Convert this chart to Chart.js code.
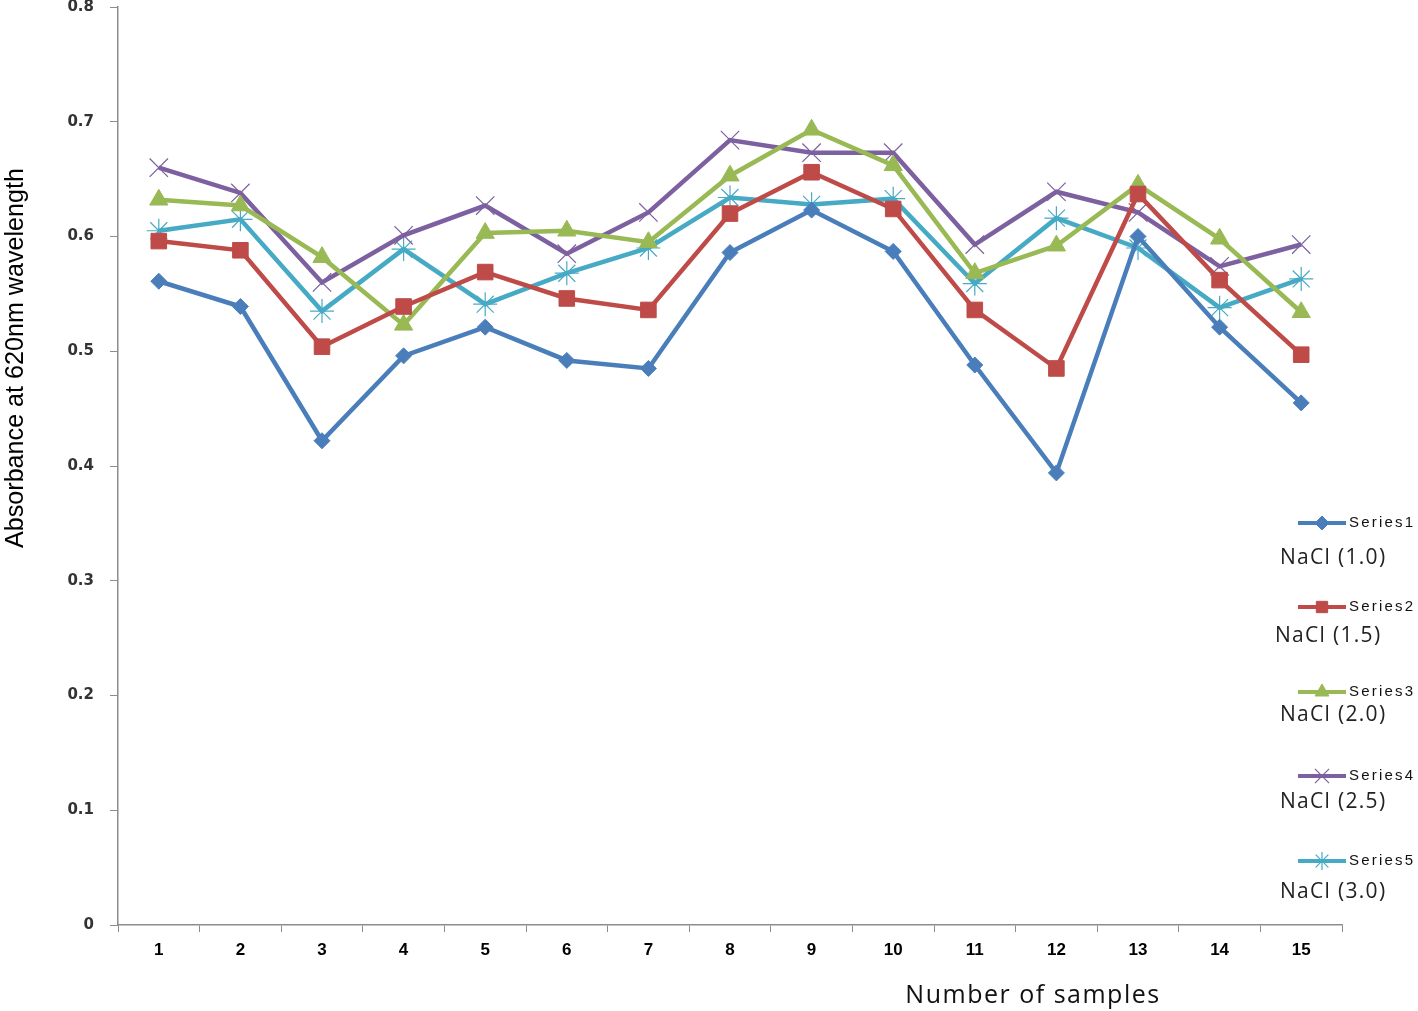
<!DOCTYPE html>
<html>
<head>
<meta charset="utf-8">
<script src="https://cdn.jsdelivr.net/npm/chart.js@4.4.0/dist/chart.umd.min.js"></script>
<style>
  html, body { margin: 0; padding: 0; background: #fff; }
  #wrap { width: 1418px; height: 1011px; }
</style>
</head>
<body>
<div id="wrap"><canvas id="absChart" width="1418" height="1011"></canvas></div>
<script>
// ---------------------------
// DATA
// ---------------------------
const samples = ["1","2","3","4","5","6","7","8","9","10","11","12","13","14","15"];

const series1 = [0.561, 0.539, 0.422, 0.496, 0.521, 0.492, 0.485, 0.586, 0.623, 0.587, 0.488, 0.394, 0.600, 0.521, 0.455];
const series2 = [0.596, 0.588, 0.504, 0.539, 0.569, 0.546, 0.536, 0.620, 0.656, 0.624, 0.536, 0.485, 0.637, 0.562, 0.497];
const series3 = [0.632, 0.627, 0.582, 0.523, 0.603, 0.605, 0.595, 0.653, 0.693, 0.662, 0.568, 0.592, 0.645, 0.598, 0.534];
const series4 = [0.660, 0.638, 0.560, 0.601, 0.627, 0.585, 0.621, 0.684, 0.673, 0.673, 0.593, 0.639, 0.621, 0.574, 0.593];
const series5 = [0.605, 0.615, 0.535, 0.589, 0.541, 0.568, 0.590, 0.634, 0.628, 0.633, 0.559, 0.616, 0.590, 0.538, 0.563];

const seriesNames = ["Series1", "Series2", "Series3", "Series4", "Series5"];
const naclLabels = ["NaCl (1.0)", "NaCl (1.5)", "NaCl (2.0)", "NaCl (2.5)", "NaCl (3.0)"];

const colors = ["#4a7ebb", "#be4b48", "#98b954", "#7d60a0", "#46aac5"];
const markers = ["rectRot", "rect", "triangle", "crossRot", "star"];
const markerSize = [8, 11, 10.5, 13, 12];
const markerLine = [1, 1, 1, 1.2, 1.2];

const yTitle = "Absorbance at 620nm wavelength";
const xTitle = "Number of samples";

// big markers would otherwise push the plot area down from the top edge
Chart.LineController.prototype.getMaxOverflow = function () { return 0; };

// ---------------------------
// DATASETS
// ---------------------------
const allSeries = [series1, series2, series3, series4, series5];

const datasets = allSeries.map((vals, i) => ({
  label: seriesNames[i],
  data: vals,
  borderColor: colors[i],
  backgroundColor: colors[i],
  borderWidth: 4.5,
  pointStyle: markers[i],
  pointRadius: markerSize[i],
  pointBackgroundColor: colors[i],
  pointBorderColor: colors[i],
  pointBorderWidth: markerLine[i],
  tension: 0,
  clip: false
}));

// ---------------------------
// TITLES + LEGEND (drawn by hand, like the original)
// ---------------------------
const extrasPlugin = {
  id: "extras",
  afterDraw(chart) {
    const ctx = chart.ctx;

    // y axis title, condensed
    ctx.save();
    ctx.fillStyle = "#000";
    ctx.font = "26px 'Liberation Sans', sans-serif";
    const w = ctx.measureText(yTitle).width;
    ctx.translate(16, 358);
    ctx.rotate(-Math.PI / 2);
    ctx.scale(380 / w, 1);
    ctx.textAlign = "center";
    ctx.textBaseline = "middle";
    ctx.fillText(yTitle, 0, 0);
    ctx.restore();

    // x axis title
    ctx.save();
    ctx.fillStyle = "#111";
    ctx.font = "25px 'Open Sans', sans-serif";
    ctx.letterSpacing = "1.5px";
    ctx.textAlign = "center";
    ctx.textBaseline = "middle";
    ctx.fillText(xTitle, 1033, 996);
    ctx.restore();

    // legend
    const rowY = [523, 607, 692, 776, 861];
    const naclY = [558, 636, 715, 802, 892];
    const naclX = [1280, 1275, 1280, 1280, 1280];
    const legendSize = [7, 8, 8, 10, 9];
    chart.data.datasets.forEach((ds, i) => {
      ctx.save();
      ctx.strokeStyle = ds.borderColor;
      ctx.lineWidth = 4;
      ctx.beginPath();
      ctx.moveTo(1298, rowY[i]);
      ctx.lineTo(1346, rowY[i]);
      ctx.stroke();
      ctx.fillStyle = ds.borderColor;
      ctx.lineWidth = ds.pointBorderWidth;
      Chart.helpers.drawPoint(ctx, {
        pointStyle: ds.pointStyle,
        radius: legendSize[i],
        borderWidth: ds.pointBorderWidth,
        rotation: 0
      }, 1322, rowY[i]);

      ctx.fillStyle = "#111";
      ctx.font = "15px 'Liberation Sans', sans-serif";
      ctx.letterSpacing = "2.2px";
      ctx.textAlign = "left";
      ctx.textBaseline = "middle";
      ctx.fillText(ds.label, 1349, rowY[i]);

      ctx.letterSpacing = "1.3px";
      ctx.font = "21px 'Open Sans', sans-serif";
      ctx.fillStyle = "#222";
      ctx.fillText(naclLabels[i], naclX[i], naclY[i]);
      ctx.restore();
    });
  }
};

// ---------------------------
// CHART
// ---------------------------
new Chart(document.getElementById("absChart"), {
  type: "line",
  data: { labels: samples, datasets: datasets },
  options: {
    responsive: false,
    animation: false,
    layout: { padding: { left: 0, top: 7, right: 76, bottom: 0 } },
    plugins: {
      legend: { display: false },
      tooltip: { enabled: false }
    },
    scales: {
      x: {
        offset: true,
        grid: { drawOnChartArea: false, drawTicks: true, tickLength: 7, color: "#8c8c8c", offset: true },
        border: { color: "#8c8c8c", width: 1.5 },
        ticks: {
          color: "#000",
          font: { family: "'Liberation Sans', sans-serif", size: 17, weight: "bold" },
          padding: 8,
          maxRotation: 0
        },
        afterFit(scale) {
          scale.height = 86;
          scale.paddingLeft = 0;
          scale.paddingRight = 0;
        }
      },
      y: {
        min: 0,
        max: 0.8,
        grid: { drawOnChartArea: false, drawTicks: true, tickLength: 8, color: "#8c8c8c" },
        border: { color: "#8c8c8c", width: 1.5 },
        ticks: {
          stepSize: 0.1,
          color: "#333",
          font: { family: "'DejaVu Sans', sans-serif", size: 15, weight: "bold" },
          padding: 16,
          callback: v => (Math.round(v * 10) / 10).toString()
        },
        afterFit(scale) {
          scale.width = 118;
          scale.paddingTop = 0;
          scale.paddingBottom = 0;
        }
      }
    }
  },
  plugins: [extrasPlugin]
});
</script>
</body>
</html>
